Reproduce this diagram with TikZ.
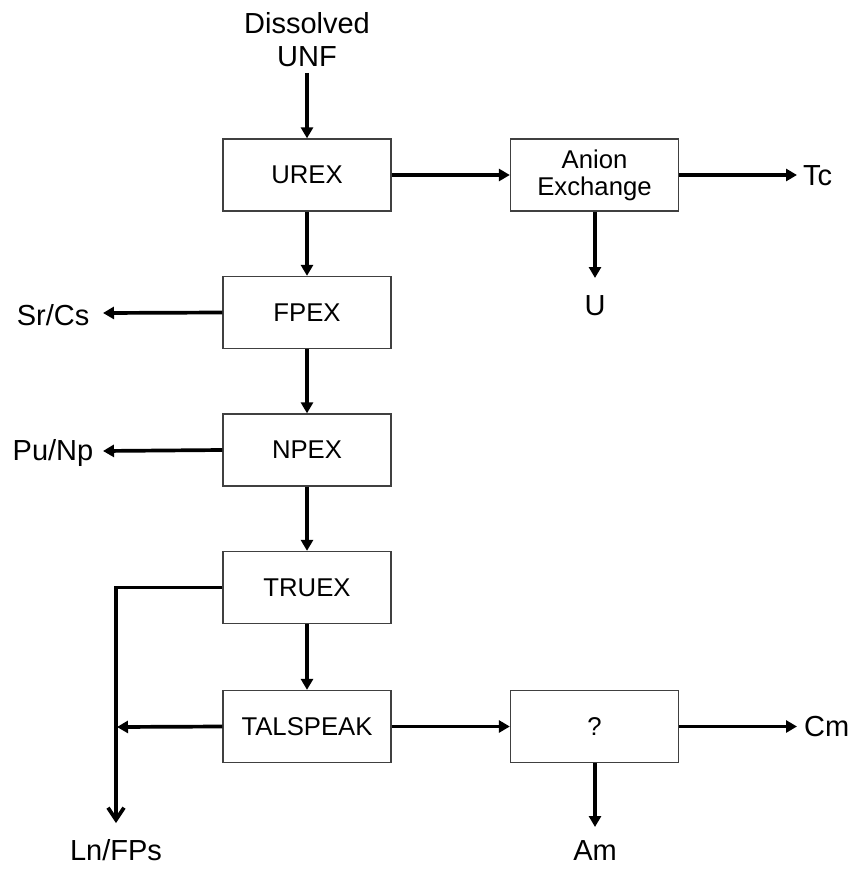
\documentclass[tikz,border=0pt]{standalone}
\usepackage{fontspec}
\setmainfont{Liberation Sans}
\usetikzlibrary{arrows.meta}
\tikzset{
  procbox/.style={draw=black!75, line width=1.3pt, minimum width=168pt, minimum height=72pt, inner sep=0pt, font=\fontsize{25.7}{31}\selectfont, align=center},
  outlbl/.style={inner sep=0pt, font=\fontsize{29}{37}\selectfont},
  flow/.style={line width=3.7pt, -{Triangle[length=11pt,width=12pt]}},
  flowbarb/.style={line width=3.7pt, -{Straight Barb[length=12pt,width=16pt,line width=3.7pt]}},
}
\begin{document}
\begin{tikzpicture}[x=1pt,y=-1pt]
\useasboundingbox (0,0) rectangle (850,869);
% boxes
\node[procbox] (urex) at (307,175) {UREX};
\node[procbox] (anion) at (594.5,175) {Anion\\[-4pt]Exchange};
\node[procbox] (fpex) at (307,312.5) {FPEX};
\node[procbox] (npex) at (307,450) {NPEX};
\node[procbox] (truex) at (307,587.5) {TRUEX};
\node[procbox] (talspeak) at (307,726.5) {TALSPEAK};
\node[procbox] (q) at (594.5,726.5) {?};
% labels
\node[outlbl,align=center] (unf) at (307,40) {Dissolved\\[-4pt]UNF};
\node[outlbl,anchor=west] (tc) at (803,176) {Tc};
\node[outlbl] (u) at (595,306) {U};
\node[outlbl] (srcs) at (53,315) {Sr/Cs};
\node[outlbl] (punp) at (53,453) {Pu/Np};
\node[outlbl,anchor=west] (cm) at (804,727) {Cm};
\node[outlbl] (am) at (595,851) {Am};
\node[outlbl] (lnfps) at (116,850) {Ln/FPs};
% free ends
\coordinate (unfend) at (307,73);
\coordinate (tcend) at (797,175);
\coordinate (uend) at (595,278);
\coordinate (srend) at (103,313);
\coordinate (puend) at (103,451);
\coordinate (lnend) at (116,823);
\coordinate (tsend) at (117,727);
\coordinate (cmend) at (797,726.5);
\coordinate (amend) at (595,827);
% connectors
\draw[flow] (unfend) -- (urex.north);
\draw[flow] (urex.east) -- (anion.west);
\draw[flow] (anion.east) -- (tcend);
\draw[flow] (anion.south -| uend) -- (uend);
\draw[flow] (urex.south) -- (fpex.north);
\draw[flow] (fpex.west) -- (srend);
\draw[flow] (fpex.south) -- (npex.north);
\draw[flow] (npex.west) -- (puend);
\draw[flow] (npex.south) -- (truex.north);
\draw[flow] (truex.south) -- (talspeak.north);
\draw[flowbarb] (truex.west) -| (lnend);
\draw[flow] (talspeak.west) -- (tsend);
\draw[flow] (talspeak.east) -- (q.west);
\draw[flow] (q.east) -- (cmend);
\draw[flow] (q.south -| amend) -- (amend);
\end{tikzpicture}
\end{document}
